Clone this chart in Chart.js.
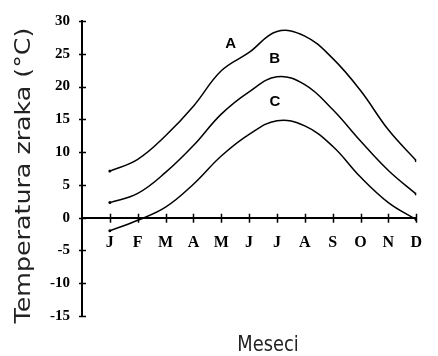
<!DOCTYPE html>
<html>
<head>
<meta charset="utf-8">
<script src="https://cdn.jsdelivr.net/npm/chart.js@4/dist/chart.umd.min.js"></script>
<style>
  html, body { margin: 0; padding: 0; background: #fff; }
  #wrap { width: 438px; height: 356px; }
</style>
</head>
<body>
<div id="wrap"><canvas id="c" width="438" height="356"></canvas></div>
<script>
// Months on the horizontal axis (1 = January ... 12 = December)
const months = ['J', 'F', 'M', 'A', 'M', 'J', 'J', 'A', 'S', 'O', 'N', 'D'];
const monthIndex = [1, 2, 3, 4, 5, 6, 7, 8, 9, 10, 11, 12];

// Mean monthly air temperature (°C) for the three curves
const tempA = [7.1, 8.9, 12.5, 17.0, 22.4, 25.2, 28.4, 27.7, 24.3, 19.4, 13.4, 8.7];
const tempB = [2.3, 3.7, 6.9, 11.0, 15.8, 19.2, 21.5, 20.3, 16.5, 11.7, 7.2, 3.6];
const tempC = [-2.0, -0.4, 1.6, 5.1, 9.4, 12.7, 14.8, 14.0, 10.9, 6.2, 2.3, -0.3];

const seriesNames = ['A', 'B', 'C'];
const seriesValues = [tempA, tempB, tempC];

const yTitle = 'Temperatura zraka (°C)';
const xTitle = 'Meseci';

const toPoints = vals => monthIndex.map((m, i) => ({ x: m, y: vals[i] }));

// Axis tick marks crossing the axis line, curve letters and axis titles
const decorations = {
  id: 'decorations',
  afterDraw(chart, args, opts) {
    const { ctx, chartArea } = chart;
    const xs = chart.scales.x, ys = chart.scales.y;
    const axisY = ys.getPixelForValue(0);
    ctx.save();
    ctx.strokeStyle = '#000';
    ctx.lineWidth = 1.5;
    ctx.beginPath();
    ys.ticks.forEach(t => {
      const py = Math.round(ys.getPixelForValue(t.value)) + 0.5;
      ctx.moveTo(chartArea.left - 3, py);
      ctx.lineTo(chartArea.left + 4, py);
    });
    xs.ticks.forEach(t => {
      if (t.value < 1) return;
      const px = Math.round(xs.getPixelForValue(t.value)) + 0.5;
      ctx.moveTo(px, axisY - 4);
      ctx.lineTo(px, axisY + 5);
    });
    ctx.stroke();

    // Curve letters
    ctx.fillStyle = '#000';
    ctx.font = 'bold 15px "Liberation Sans", Arial, sans-serif';
    ctx.textAlign = 'center';
    ctx.textBaseline = 'middle';
    opts.letters.forEach((l, i) => {
      ctx.fillText(seriesNames[i], xs.getPixelForValue(l.x), ys.getPixelForValue(l.y));
    });

    // Vertical axis title
    ctx.fillStyle = '#222';
    ctx.font = '22px "DejaVu Sans", Verdana, sans-serif';
    ctx.save();
    ctx.translate(24, (chartArea.top + chartArea.bottom) / 2 + 7);
    ctx.rotate(-Math.PI / 2);
    ctx.scale(1.15, 1);
    ctx.fillText(yTitle, 0, 0);
    ctx.restore();

    // Horizontal axis title
    ctx.save();
    ctx.translate(268, 346);
    ctx.scale(0.85, 1);
    ctx.font = '21px "DejaVu Sans", Verdana, sans-serif';
    ctx.fillText(xTitle, 0, 0);
    ctx.restore();
    ctx.restore();
  }
};

const lineStyle = {
  borderColor: '#000',
  backgroundColor: '#000',
  borderWidth: 1.5,
  tension: 0.4,
  fill: false,
  pointRadius: c => (c.dataIndex === 0 || c.dataIndex === monthIndex.length - 1) ? 1.5 : 0,
  pointBorderWidth: 0,
  pointBackgroundColor: '#000'
};

new Chart(document.getElementById('c'), {
  type: 'line',
  data: {
    datasets: seriesValues.map((vals, i) => Object.assign({ label: seriesNames[i], data: toPoints(vals) }, lineStyle))
  },
  options: {
    responsive: false,
    animation: false,
    devicePixelRatio: 1,
    layout: { padding: { top: 20, right: 8, bottom: 40, left: 0 } },
    plugins: {
      legend: { display: false },
      tooltip: { enabled: false },
      decorations: {
        letters: [
          { x: 5.34, y: 26.5 },
          { x: 6.92, y: 24.3 },
          { x: 6.93, y: 17.6 }
        ]
      }
    },
    scales: {
      x: {
        type: 'linear',
        min: 0,
        max: 12,
        position: { y: 0 },
        grid: { display: true, drawOnChartArea: false, drawTicks: false },
        border: { display: true, color: '#000', width: 2 },
        ticks: {
          stepSize: 1,
          autoSkip: false,
          maxRotation: 0,
          padding: 16,
          color: '#000',
          font: { family: '"Liberation Serif", "Times New Roman", serif', size: 16, weight: 'bold' },
          callback: v => (v >= 1 && v <= 12) ? months[v - 1] : ''
        }
      },
      y: {
        type: 'linear',
        min: -15,
        max: 30,
        grid: { display: true, drawOnChartArea: false, drawTicks: false },
        border: { display: true, color: '#000', width: 2 },
        ticks: {
          stepSize: 5,
          padding: 12,
          color: '#000',
          font: { family: '"Liberation Serif", "Times New Roman", serif', size: 15, weight: 'bold' }
        },
        afterFit: s => { s.width = 82; }
      }
    }
  },
  plugins: [decorations]
});
</script>
</body>
</html>
